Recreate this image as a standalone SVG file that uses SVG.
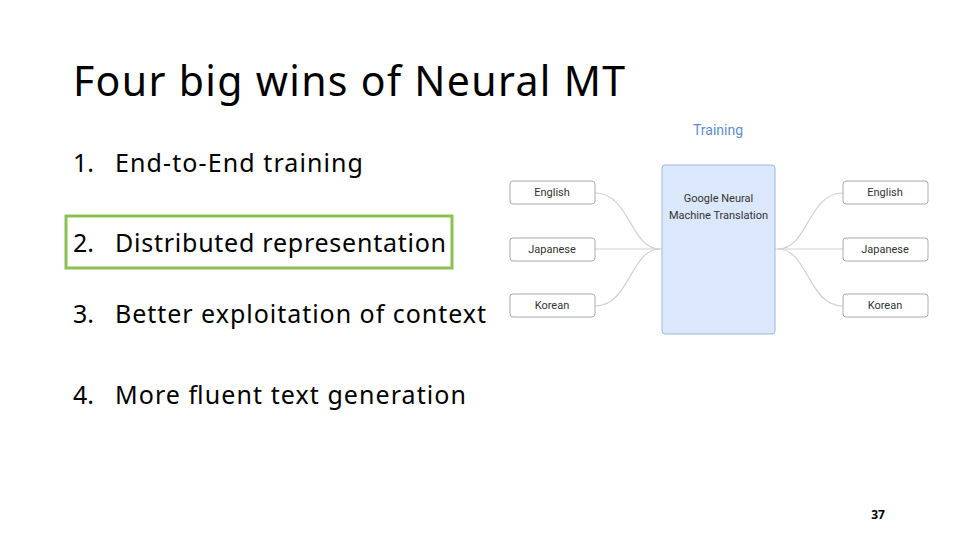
<svg xmlns="http://www.w3.org/2000/svg" width="960" height="540" viewBox="0 0 960 540">
<style>
.t{font-family:"Noto Sans","Open Sans",sans-serif;fill:#000}
.b{fill:#fff;stroke:#aaa;stroke-width:1}
.bl{font-family:Roboto,"Liberation Sans",sans-serif;font-size:11px;fill:#333;text-anchor:middle}
.c{fill:none;stroke:#d0d0d0;stroke-width:1.2}
</style>
<rect width="960" height="540" fill="#fff"/>
<text class="t" x="73" y="96" font-size="41" textLength="552" lengthAdjust="spacing">Four big wins of Neural MT</text>
<g class="t" font-size="25">
<text x="73" y="172">1.</text><text x="115" y="172" textLength="248" lengthAdjust="spacing">End-to-End training</text>
<text x="73" y="252">2.</text><text x="115" y="252" textLength="331" lengthAdjust="spacing">Distributed representation</text>
<text x="73" y="323">3.</text><text x="115" y="323" textLength="371" lengthAdjust="spacing">Better exploitation of context</text>
<text x="73" y="404">4.</text><text x="115" y="404" textLength="351" lengthAdjust="spacing">More fluent text generation</text>
</g>
<rect id="hl" x="66" y="216" width="386" height="52" fill="none" stroke="#8cc152" stroke-width="3"/>
<text x="718" y="135" font-family="Roboto,'Liberation Sans',sans-serif" font-size="14" fill="#5a8ed0" text-anchor="middle">Training</text>
<g id="connectors">
<path class="c" d="M595 193 C630 193 630 249 660 249"/>
<path class="c" d="M595 249 L843 249"/>
<path class="c" d="M595 306 C630 306 630 249 660 249"/>
<path class="c" d="M843 193 C808 193 808 249 778 249"/>
<path class="c" d="M843 306 C808 306 808 249 778 249"/>
</g>
<g id="gnmt"><rect x="662" y="165" width="113" height="169" rx="3" fill="#dbe8fb" stroke="#9ab8e0"/>
<text class="bl" x="718.5" y="202" font-size="12">Google Neural</text>
<text class="bl" x="718.5" y="219" font-size="12">Machine Translation</text></g>
<g id="l1"><rect class="b" x="510" y="181" width="85" height="23" rx="3"/><text class="bl" x="552" y="196">English</text></g>
<g id="l2"><rect class="b" x="510" y="238" width="85" height="23" rx="3"/><text class="bl" x="552" y="253">Japanese</text></g>
<g id="l3"><rect class="b" x="510" y="294" width="85" height="23" rx="3"/><text class="bl" x="552" y="309">Korean</text></g>
<g id="r1"><rect class="b" x="843" y="181" width="85" height="23" rx="3"/><text class="bl" x="885" y="196">English</text></g>
<g id="r2"><rect class="b" x="843" y="238" width="85" height="23" rx="3"/><text class="bl" x="885" y="253">Japanese</text></g>
<g id="r3"><rect class="b" x="843" y="294" width="85" height="23" rx="3"/><text class="bl" x="885" y="309">Korean</text></g>
<text x="878" y="519" font-family="'Noto Sans',sans-serif" font-size="12" font-weight="bold" text-anchor="middle">37</text>
</svg>
